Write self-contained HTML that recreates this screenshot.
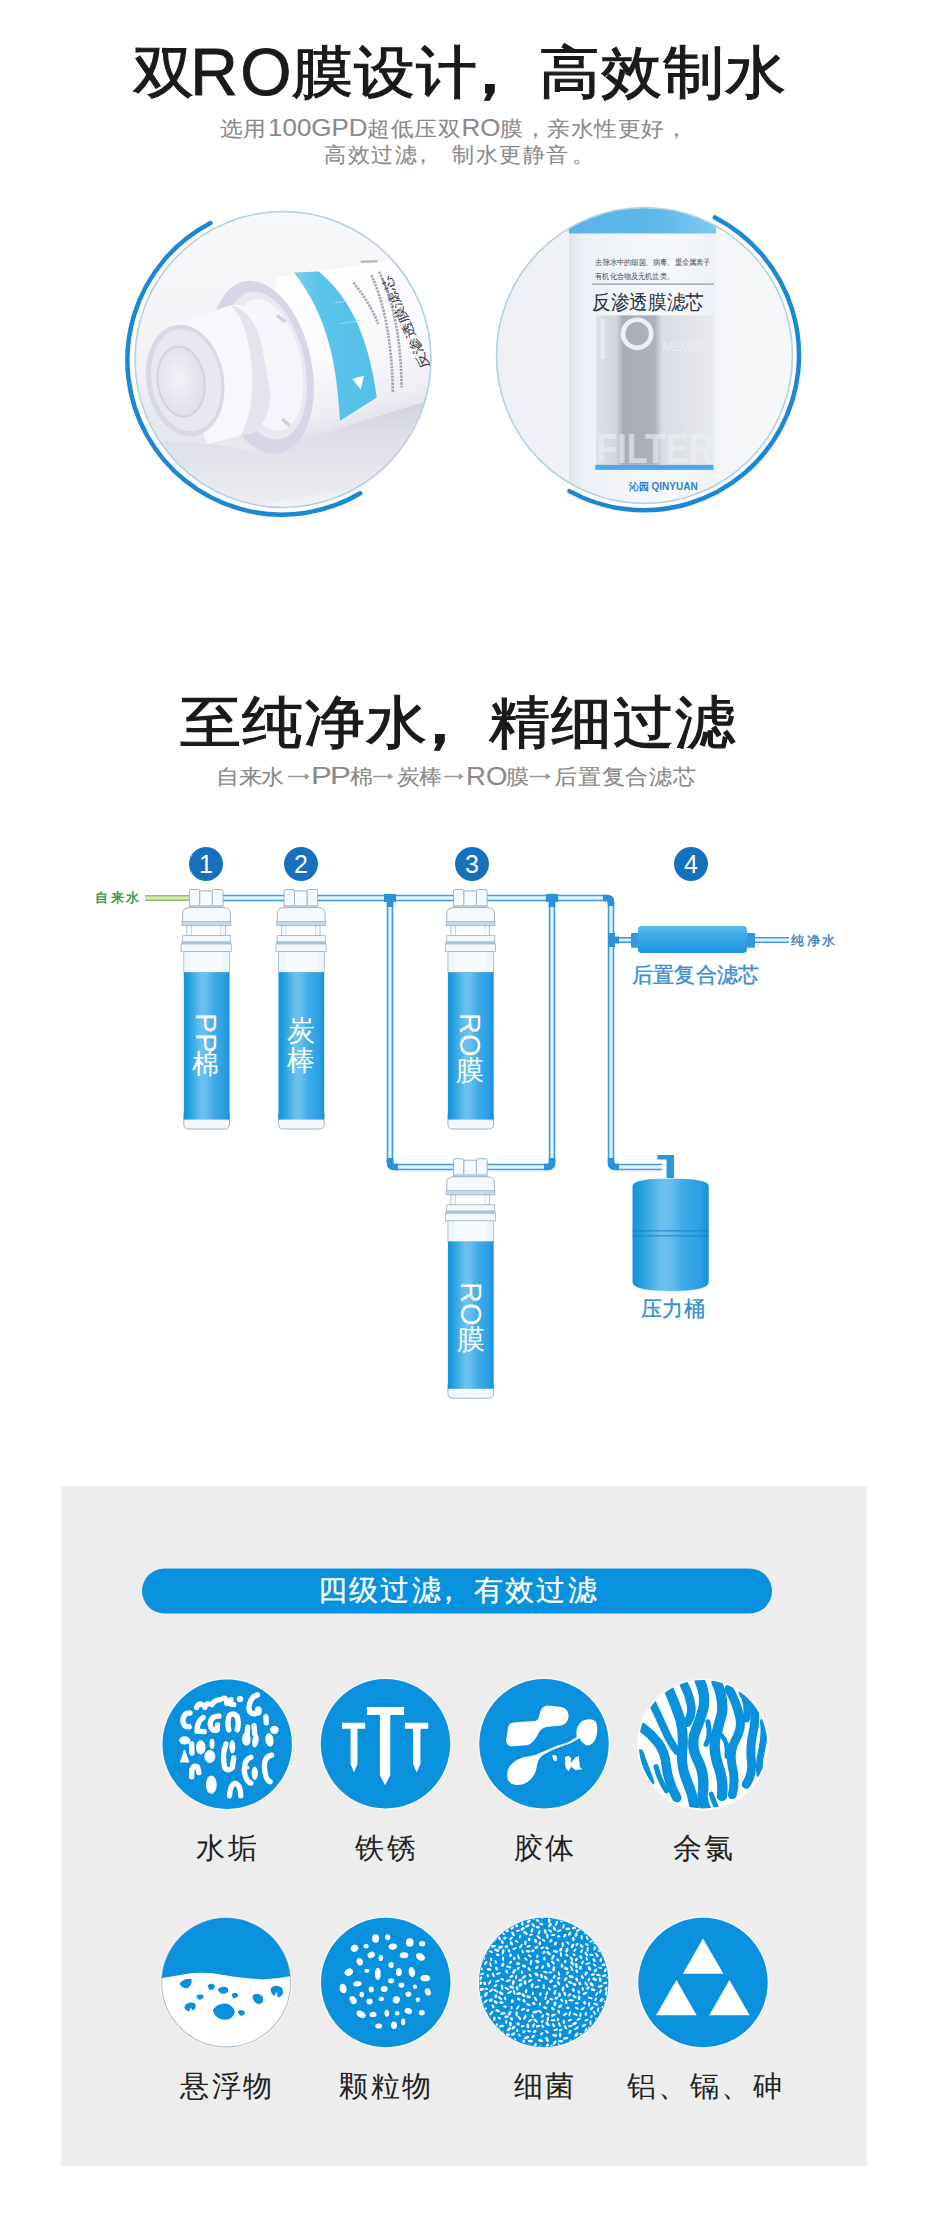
<!DOCTYPE html>
<html><head><meta charset="utf-8"><style>
*{margin:0;padding:0;box-sizing:border-box}
html,body{width:927px;height:2217px;overflow:hidden;background:#fff}
body{position:relative;font-family:"Liberation Sans",sans-serif}
.t{position:absolute;white-space:nowrap}
.g{-webkit-text-stroke:0.1px #8a8a8a}
.lt{letter-spacing:2px}
.v{position:absolute;writing-mode:vertical-rl;color:#fff;white-space:nowrap;letter-spacing:0}
.num{position:absolute;width:34px;height:34px;line-height:34px;text-align:center;color:#fff;font-size:25px}
.lab{position:absolute;width:200px;text-align:center;font-size:29px;line-height:28px;color:#222;letter-spacing:2.5px;text-indent:2.5px;white-space:nowrap}
#main{position:absolute;left:0;top:0}
.arw{display:inline-block;vertical-align:middle;margin:0 2px 0 3px}
</style></head>
<body>
<svg id="main" width="927" height="2217" viewBox="0 0 927 2217">
<defs>
<linearGradient id="gb" x1="0" x2="1" y1="0" y2="0">
<stop offset="0" stop-color="#1493d8"/><stop offset="0.08" stop-color="#1c9bdc"/><stop offset="0.25" stop-color="#46b1e8"/><stop offset="0.38" stop-color="#6cc1ee"/><stop offset="0.5" stop-color="#66bdee"/><stop offset="0.66" stop-color="#3eabe8"/><stop offset="0.9" stop-color="#2a9fe3"/><stop offset="1" stop-color="#118fd8"/>
</linearGradient>
<linearGradient id="gv" x1="0" x2="0" y1="0" y2="1">
<stop offset="0" stop-color="#5cbaee"/><stop offset="0.35" stop-color="#3eabe8"/><stop offset="1" stop-color="#1a94dc"/>
</linearGradient>
<g id="flt">
 <rect x="-17.2" y="0.5" width="10.4" height="18" rx="1.5" fill="#f5f9fc" stroke="#9db6c6" stroke-width="1"/>
 <rect x="5.7" y="0.5" width="10.7" height="18" rx="1.5" fill="#f5f9fc" stroke="#9db6c6" stroke-width="1"/>
 <rect x="-6.8" y="2" width="12.5" height="15.5" fill="#f8fbfd" stroke="#9db6c6" stroke-width="1"/>
 <rect x="-17" y="16" width="33.5" height="3" fill="#b7cddc"/>
 <path d="M-24,35 L-24,25 Q-24,18.6 -17,18.6 L17,18.6 Q23.8,18.6 23.8,25 L23.8,35 Z" fill="#f6f9fc" stroke="#9db6c6" stroke-width="1"/>
 <rect x="-24.5" y="32.5" width="48.8" height="4.2" fill="#c4d8e6" stroke="#9db6c6" stroke-width="0.8"/>
 <rect x="-19.8" y="36.7" width="4.8" height="10" fill="#f5f9fc" stroke="#9db6c6" stroke-width="0.8"/>
 <rect x="14" y="36.7" width="4.8" height="10" fill="#f5f9fc" stroke="#9db6c6" stroke-width="0.8"/>
 <rect x="-15" y="38" width="29" height="8.6" fill="#fbfdfe"/>
 <rect x="-24" y="46.6" width="48" height="6.2" fill="#f4f8fb" stroke="#9db6c6" stroke-width="0.8"/>
 <rect x="-25.4" y="52.5" width="50.1" height="2.6" fill="#a9c7dc"/>
 <rect x="-25.4" y="55" width="50.1" height="7.8" fill="#f4f8fb" stroke="#9db6c6" stroke-width="0.8"/>
 <rect x="-22.8" y="62.6" width="45.7" height="21" fill="#eef5fb" stroke="#9db6c6" stroke-width="0.8"/>
 <rect x="-16" y="63" width="32" height="20" fill="#f7fafd"/>
 <path d="M-22.8,225 L-22.8,235 Q-22.8,240 -17.8,240 L17.9,240 Q22.9,240 22.9,235 L22.9,225 Z" fill="#f4f8fb" stroke="#9db6c6" stroke-width="1"/>
 <rect x="-22.8" y="83.3" width="45.7" height="147.3" fill="url(#gb)"/>
</g>
</defs><svg x="130" y="205" width="310" height="310" viewBox="0 0 927 927">
<defs>
<clipPath id="lc"><circle cx="457.5" cy="462" r="441"/></clipPath>
<linearGradient id="lbg" x1="0" y1="0" x2="0" y2="1">
 <stop offset="0" stop-color="#f8f8fa"/><stop offset="0.5" stop-color="#f3f3f7"/><stop offset="0.75" stop-color="#e6e6ee"/><stop offset="0.9" stop-color="#ebebf1"/><stop offset="1" stop-color="#f3f3f6"/>
</linearGradient>
<linearGradient id="lbody" x1="0" y1="0" x2="0.25" y2="1">
 <stop offset="0" stop-color="#ffffff"/><stop offset="0.6" stop-color="#fafafd"/><stop offset="0.85" stop-color="#ececf3"/><stop offset="1" stop-color="#dcdce8"/>
</linearGradient>
<linearGradient id="lsh" x1="0" y1="0" x2="0" y2="1">
 <stop offset="0" stop-color="#cfcfdc"/><stop offset="0.3" stop-color="#dedee8"/><stop offset="1" stop-color="#f0f0f4"/>
</linearGradient>
<linearGradient id="lband" x1="0" y1="0" x2="1" y2="0">
 <stop offset="0" stop-color="#7ccdee"/><stop offset="0.3" stop-color="#5cc4ea"/><stop offset="1" stop-color="#54bfe8"/>
</linearGradient>
<radialGradient id="lface" cx="0.45" cy="0.45" r="0.6">
 <stop offset="0" stop-color="#f2f2f7"/><stop offset="1" stop-color="#dedeea"/>
</radialGradient>
</defs>
<circle cx="457.5" cy="462" r="442.5" fill="url(#lbg)"/>
<g clip-path="url(#lc)">
 <!-- shadow under product -->
 <path d="M0,700 L250,715 L383,741 L589,679 L879,588 L960,560 L960,800 L0,960 Z" fill="url(#lsh)"/>
 <!-- main body -->
 <path d="M440,215 L960,140 L960,560 L879,588 L589,679 L383,741 Z" fill="url(#lbody)"/>
 <!-- cyan band -->
 <path d="M490,202 L564,199 C650,270 712,380 738,576 L628,645 C618,470 590,330 490,202 Z" fill="url(#lband)"/>
 <path d="M612,292 L648,288 M628,355 L690,345" stroke="#9ed8f2" stroke-width="3"/>
 <path d="M665,520 L700,510 L690,552 Z" fill="#ffffff"/>
 <!-- text on body -->
 <text transform="translate(896,484) rotate(-114)" font-size="37" fill="#3a3c44" font-family="Liberation Sans" textLength="300" lengthAdjust="spacingAndGlyphs">反渗透膜滤芯</text>
 <g fill="none" stroke="#707480" stroke-width="8" stroke-dasharray="7 3" opacity="0.6">
  <path d="M745,200 Q810,330 812,545"/>
  <path d="M722,210 Q782,340 786,560"/>
  <path d="M668,232 Q720,296 742,356"/>
 </g>
 <path d="M690,170 L740,168" stroke="#808490" stroke-width="6" opacity="0.6"/>
 <!-- flange ring -->
 <ellipse cx="395" cy="485" rx="148" ry="262" transform="rotate(-12,395,485)" fill="#d6d6e6"/>
 <ellipse cx="405" cy="480" rx="118" ry="225" transform="rotate(-12,405,480)" fill="#e9e9f2"/>
 <ellipse cx="412" cy="478" rx="100" ry="200" transform="rotate(-12,412,478)" fill="#f6f6fa"/>
 <path d="M440,330 L465,350 M455,640 L478,660" stroke="#d0d0e0" stroke-width="10"/>
 <!-- cap cylinder -->
 <path d="M120,360 L300,300 Q350,290 380,330 L420,560 Q420,640 370,680 L230,715 Z" fill="#f8f8fc"/>
 <path d="M300,300 Q360,310 390,400 L420,560 Q420,640 370,680 L330,690 Q380,600 360,450 Q345,340 300,300 Z" fill="#e4e4ee"/>
 <!-- cap face -->
 <ellipse cx="165" cy="525" rx="116" ry="168" transform="rotate(-10,165,525)" fill="#d8d8e6"/>
 <ellipse cx="168" cy="524" rx="104" ry="154" transform="rotate(-10,168,524)" fill="#e8e8f0"/>
 <ellipse cx="153" cy="528" rx="70" ry="105" transform="rotate(-8,153,528)" fill="url(#lface)" stroke="#d2d2e0" stroke-width="6"/>
</g>
<circle cx="457.5" cy="462" r="442.5" fill="none" stroke="#b3d3e2" stroke-width="5"/>
</svg><svg x="490" y="200" width="310" height="310" viewBox="0 0 927 927">
<defs>
<clipPath id="rc"><circle cx="462" cy="465" r="441"/></clipPath>
<linearGradient id="rbg" x1="0" y1="0" x2="1" y2="0">
 <stop offset="0" stop-color="#eef0f4"/><stop offset="0.5" stop-color="#f3f4f7"/><stop offset="1" stop-color="#f6f7f9"/>
</linearGradient>
<linearGradient id="rcyl" x1="0" y1="0" x2="1" y2="0">
 <stop offset="0" stop-color="#dfe4ec"/><stop offset="0.12" stop-color="#eef2f8"/><stop offset="0.7" stop-color="#f6f8fb"/><stop offset="1" stop-color="#eef1f6"/>
</linearGradient>
<linearGradient id="rband" x1="0" y1="0" x2="1" y2="0"><stop offset="0" stop-color="#58b2e6"/><stop offset="0.6" stop-color="#5eb8ea"/><stop offset="1" stop-color="#7ccaf2"/></linearGradient>
<linearGradient id="rsil" x1="0" y1="0" x2="1" y2="0">
 <stop offset="0" stop-color="#dcdfe6"/><stop offset="0.17" stop-color="#d4d7df"/><stop offset="0.23" stop-color="#a9adb8"/><stop offset="0.5" stop-color="#aeb2bc"/><stop offset="0.56" stop-color="#dadde3"/><stop offset="1" stop-color="#e8eaee"/>
</linearGradient>
</defs>
<circle cx="462" cy="465" r="442.5" fill="url(#rbg)"/>
<g clip-path="url(#rc)">
 <rect x="236" y="0" width="440" height="975" fill="url(#rcyl)"/>
 <rect x="236" y="0" width="440" height="100" fill="url(#rband)"/>
 <text x="315" y="195" font-size="25" fill="#4a4e56" font-family="Liberation Sans" textLength="345" lengthAdjust="spacingAndGlyphs">去除水中的细菌、病毒、重金属离子</text>
 <text x="315" y="235" font-size="25" fill="#4a4e56" font-family="Liberation Sans" textLength="235" lengthAdjust="spacingAndGlyphs">有机化合物及无机盐类。</text>
 <rect x="305" y="250" width="365" height="3" fill="#7a8290"/>
 <text x="305" y="326" font-size="60" fill="#2e3036" font-family="Liberation Sans" textLength="335" lengthAdjust="spacingAndGlyphs">反渗透膜滤芯</text>
 <rect x="318" y="345" width="350" height="447" fill="url(#rsil)"/>
 <circle cx="440" cy="400" r="42" fill="none" stroke="#eef0f4" stroke-width="14"/>
 <rect x="330" y="355" width="14" height="120" fill="#eef0f4" opacity="0.7"/>
 <text x="515" y="452" font-size="36" fill="#eef0f4" font-family="Liberation Sans" opacity="0.8">MEMBR</text>
 <text x="318" y="786" font-size="128" fill="#eef0f4" font-family="Liberation Sans" font-weight="bold" opacity="0.6" textLength="350" lengthAdjust="spacingAndGlyphs">FILTER</text>
 <rect x="315" y="792" width="353" height="15" fill="#4aa8e8"/>
 <text x="415" y="868" font-size="30" fill="#2f7fd0" font-family="Liberation Sans" font-weight="bold">沁园 QINYUAN</text>
</g>
<circle cx="462" cy="465" r="442.5" fill="none" stroke="#b3d3e2" stroke-width="5"/>
</svg><path d="M210.5,223.1 A154.5,154.5 0 1 0 360.2,493.3" fill="none" stroke="#1a88d4" stroke-width="4.5" stroke-linecap="round"/><path d="M714.9,217.4 A155,155 0 1 1 569.4,491.1" fill="none" stroke="#1a88d4" stroke-width="4.5" stroke-linecap="round"/><path d="M288.2,776.5 H305.8" stroke="#9a9a9a" stroke-width="1.5"/><path d="M304.8,773.3 L309.8,776.5 L304.8,779.7 Z" fill="#9a9a9a"/><path d="M373,776.5 H389.4" stroke="#9a9a9a" stroke-width="1.5"/><path d="M388.4,773.3 L393.4,776.5 L388.4,779.7 Z" fill="#9a9a9a"/><path d="M444.2,776.5 H459.8" stroke="#9a9a9a" stroke-width="1.5"/><path d="M458.8,773.3 L463.8,776.5 L458.8,779.7 Z" fill="#9a9a9a"/><path d="M529.8,776.5 H546.8" stroke="#9a9a9a" stroke-width="1.5"/><path d="M545.8,773.3 L550.8,776.5 L545.8,779.7 Z" fill="#9a9a9a"/><path d="M145,898 L190,898" fill="none" stroke="#8cc46a" stroke-width="6" stroke-linejoin="round"/><path d="M145,898 L190,898" fill="none" stroke="#d5ecb0" stroke-width="2.8" stroke-linejoin="round"/><path d="M222,898 L286,898 M316,898 L455,898 M487,898 L606,898 Q611,898 611,903 L611,1162 Q611,1167 616,1167 L662,1167" fill="none" stroke="#3d9be0" stroke-width="6.5" stroke-linejoin="round"/><path d="M222,898 L286,898 M316,898 L455,898 M487,898 L606,898 Q611,898 611,903 L611,1162 Q611,1167 616,1167 L662,1167" fill="none" stroke="#e3f2fc" stroke-width="3.3" stroke-linejoin="round"/><path d="M390,898 L390,1162 Q390,1167 395,1167 L456,1167" fill="none" stroke="#3d9be0" stroke-width="6.5" stroke-linejoin="round"/><path d="M390,898 L390,1162 Q390,1167 395,1167 L456,1167" fill="none" stroke="#e3f2fc" stroke-width="3.3" stroke-linejoin="round"/><path d="M552,898 L552,1162 Q552,1167 547,1167 L486,1167" fill="none" stroke="#3d9be0" stroke-width="6.5" stroke-linejoin="round"/><path d="M552,898 L552,1162 Q552,1167 547,1167 L486,1167" fill="none" stroke="#e3f2fc" stroke-width="3.3" stroke-linejoin="round"/><path d="M611,940 L632,940" fill="none" stroke="#3d9be0" stroke-width="6" stroke-linejoin="round"/><path d="M611,940 L632,940" fill="none" stroke="#e3f2fc" stroke-width="2.8" stroke-linejoin="round"/><path d="M754,940 L789,940" fill="none" stroke="#3d9be0" stroke-width="6" stroke-linejoin="round"/><path d="M754,940 L789,940" fill="none" stroke="#e3f2fc" stroke-width="2.8" stroke-linejoin="round"/><rect x="384" y="894" width="12" height="8" fill="#2a92dc"/><rect x="386.7" y="898" width="6.6" height="9" fill="#2a92dc"/><rect x="546" y="894" width="12" height="8" fill="#2a92dc"/><rect x="548.7" y="898" width="6.6" height="9" fill="#2a92dc"/><rect x="608" y="933" width="7" height="14" fill="#2a92dc"/><rect x="614" y="936.5" width="5" height="7" fill="#2a92dc"/><path d="M603,894.7 L607,894.7 Q614.3,894.7 614.3,902 L614.3,906 L607.7,906 L607.7,902 Q607.7,901.3 607,901.3 L603,901.3 Z" fill="#2a92dc"/><path d="M386.7,1158 L386.7,1163 Q386.7,1170.3 394,1170.3 L398,1170.3 L398,1163.7 L394,1163.7 Q393.3,1163.7 393.3,1163 L393.3,1158 Z" fill="#2a92dc"/><path d="M555.3,1158 L555.3,1163 Q555.3,1170.3 548,1170.3 L544,1170.3 L544,1163.7 L548,1163.7 Q548.7,1163.7 548.7,1163 L548.7,1158 Z" fill="#2a92dc"/><path d="M607.7,1158 L607.7,1163 Q607.7,1170.3 615,1170.3 L619,1170.3 L619,1163.7 L615,1163.7 Q614.3,1163.7 614.3,1163 L614.3,1158 Z" fill="#2a92dc"/><use href="#flt" x="206.6" y="889"/><use href="#flt" x="301.3" y="889"/><use href="#flt" x="470.7" y="889"/><use href="#flt" x="470.7" y="1158.2"/><circle cx="206" cy="864" r="17" fill="#1670bb"/><circle cx="301" cy="864" r="17" fill="#1670bb"/><circle cx="472" cy="864" r="17" fill="#1670bb"/><circle cx="691" cy="864" r="17" fill="#1670bb"/><rect x="631" y="933" width="8" height="14.7" rx="1" fill="#3198de"/><rect x="746" y="933" width="9" height="14.7" rx="1" fill="#3198de"/><rect x="637.8" y="926" width="109.2" height="27" rx="4" fill="url(#gv)"/><path d="M666.5,1178 L666.5,1159.6 L657.4,1159.6 L657.4,1155 L674,1155 L674,1178 Z" fill="#2c95dc"/><path d="M632.5,1186 Q632.5,1178.5 670.6,1178.5 Q708.7,1178.5 708.7,1186 L708.7,1282 Q708.7,1291 670.6,1291 Q632.5,1291 632.5,1282 Z" fill="url(#gb)"/><rect x="632.5" y="1230" width="76.2" height="1.6" fill="#1a7fc8" opacity="0.6"/><rect x="632.5" y="1235" width="76.2" height="1.6" fill="#1a7fc8" opacity="0.6"/><rect x="61" y="1486" width="806" height="680" fill="#ededed"/><rect x="142" y="1568.5" width="630" height="45" rx="22.5" fill="#0892dd"/><circle cx="227.2" cy="1744.3" r="66" fill="#f7f7f7"/><circle cx="227.2" cy="1744.3" r="64.7" fill="#0991de"/><circle cx="385.5" cy="1743.8" r="66" fill="#f7f7f7"/><circle cx="385.5" cy="1743.8" r="64.7" fill="#0991de"/><circle cx="544" cy="1743.8" r="66" fill="#f7f7f7"/><circle cx="544" cy="1743.8" r="64.7" fill="#0991de"/><circle cx="703" cy="1744.5" r="66" fill="#f7f7f7"/><circle cx="703" cy="1744.5" r="64.7" fill="#ffffff"/><circle cx="226.2" cy="1982.5" r="66" fill="#f7f7f7"/><circle cx="226.2" cy="1982.5" r="64.7" fill="#ffffff"/><circle cx="385.7" cy="1982.5" r="66" fill="#f7f7f7"/><circle cx="385.7" cy="1982.5" r="64.7" fill="#0991de"/><circle cx="543.7" cy="1982.5" r="66" fill="#f7f7f7"/><circle cx="543.7" cy="1982.5" r="64.7" fill="#0991de"/><circle cx="703" cy="1982.5" r="66" fill="#f7f7f7"/><circle cx="703" cy="1982.5" r="64.7" fill="#0991de"/><svg x="165" y="1685" width="130" height="120" viewBox="0 0 927 856"><path d="M225,160 Q240,125 262,140" fill="none" stroke="#fff" stroke-width="38" stroke-linecap="round" stroke-linejoin="round"/><path d="M285,160 Q290,130 310,135" fill="none" stroke="#fff" stroke-width="38" stroke-linecap="round" stroke-linejoin="round"/><path d="M335,140 Q350,110 390,105" fill="none" stroke="#fff" stroke-width="38" stroke-linecap="round" stroke-linejoin="round"/><path d="M415,95 Q440,90 440,130" fill="none" stroke="#fff" stroke-width="38" stroke-linecap="round" stroke-linejoin="round"/><path d="M470,105 L465,135 L490,140" fill="none" stroke="#fff" stroke-width="38" stroke-linecap="round" stroke-linejoin="round"/><path d="M660,70 Q605,85 598,165 Q600,205 640,205" fill="none" stroke="#fff" stroke-width="38" stroke-linecap="round" stroke-linejoin="round"/><path d="M178,200 Q125,200 128,262 Q135,300 172,298" fill="none" stroke="#fff" stroke-width="38" stroke-linecap="round" stroke-linejoin="round"/><path d="M272,232 Q228,260 228,330 L280,332" fill="none" stroke="#fff" stroke-width="38" stroke-linecap="round" stroke-linejoin="round"/><path d="M385,222 Q325,220 322,282 Q328,330 372,322 L375,285" fill="none" stroke="#fff" stroke-width="38" stroke-linecap="round" stroke-linejoin="round"/><path d="M455,320 Q440,260 460,215 Q490,195 515,225 Q530,270 515,320" fill="none" stroke="#fff" stroke-width="38" stroke-linecap="round" stroke-linejoin="round"/><path d="M590,300 L585,360" fill="none" stroke="#fff" stroke-width="38" stroke-linecap="round" stroke-linejoin="round"/><path d="M635,290 L640,350" fill="none" stroke="#fff" stroke-width="38" stroke-linecap="round" stroke-linejoin="round"/><path d="M720,225 L722,270" fill="none" stroke="#fff" stroke-width="38" stroke-linecap="round" stroke-linejoin="round"/><path d="M190,420 L192,485" fill="none" stroke="#fff" stroke-width="38" stroke-linecap="round" stroke-linejoin="round"/><path d="M435,420 Q405,500 425,590 Q450,620 480,590 L490,520" fill="none" stroke="#fff" stroke-width="38" stroke-linecap="round" stroke-linejoin="round"/><path d="M190,655 L192,605 Q205,565 232,585 L242,625" fill="none" stroke="#fff" stroke-width="38" stroke-linecap="round" stroke-linejoin="round"/><path d="M460,790 Q468,705 500,702 Q538,708 540,790" fill="none" stroke="#fff" stroke-width="38" stroke-linecap="round" stroke-linejoin="round"/><path d="M612,515 Q562,530 566,620 Q578,690 612,700" fill="none" stroke="#fff" stroke-width="38" stroke-linecap="round" stroke-linejoin="round"/><path d="M760,500 Q702,512 710,600 Q718,680 750,690" fill="none" stroke="#fff" stroke-width="38" stroke-linecap="round" stroke-linejoin="round"/><ellipse cx="535" cy="100" rx="23" ry="22" transform="rotate(0,535,100)" fill="#fff"/><ellipse cx="665" cy="185" rx="26" ry="34" transform="rotate(0,665,185)" fill="#fff"/><ellipse cx="780" cy="320" rx="31" ry="29" transform="rotate(0,780,320)" fill="#fff"/><ellipse cx="140" cy="395" rx="39" ry="29" transform="rotate(0,140,395)" fill="#fff"/><ellipse cx="255" cy="445" rx="34" ry="50" transform="rotate(0,255,445)" fill="#fff"/><ellipse cx="320" cy="510" rx="39" ry="46" transform="rotate(0,320,510)" fill="#fff"/><ellipse cx="335" cy="420" rx="18" ry="36" transform="rotate(0,335,420)" fill="#fff"/><ellipse cx="480" cy="440" rx="21" ry="48" transform="rotate(0,480,440)" fill="#fff"/><ellipse cx="580" cy="385" rx="31" ry="48" transform="rotate(0,580,385)" fill="#fff"/><ellipse cx="645" cy="398" rx="22" ry="48" transform="rotate(10,645,398)" fill="#fff"/><ellipse cx="745" cy="392" rx="29" ry="48" transform="rotate(-10,745,392)" fill="#fff"/><ellipse cx="640" cy="630" rx="22" ry="48" transform="rotate(0,640,630)" fill="#fff"/><ellipse cx="330" cy="712" rx="39" ry="66" transform="rotate(0,330,712)" fill="#fff"/><ellipse cx="590" cy="590" rx="13" ry="12" transform="rotate(0,590,590)" fill="#fff"/><path d="M112,548 L138,468 L168,548 Z" fill="#fff" stroke="#fff" stroke-width="10" stroke-linejoin="round"/></svg><svg x="310" y="1670" width="160" height="160" viewBox="0 0 927 927"><path d="M330,215 L545,215 L545,260 L465,260 L465,610 L435,668 L405,610 L405,260 L330,260 Z" fill="#fff"/><path d="M185,305 L320,305 L320,340 L275,340 L275,545 L255,592 L235,545 L235,340 L185,340 Z" fill="#fff"/><path d="M550,305 L685,305 L685,340 L640,340 L640,545 L618,592 L597,545 L597,340 L550,340 Z" fill="#fff"/></svg><svg x="465" y="1670" width="160" height="160" viewBox="0 0 927 927"><path d="M250,330 Q255,305 295,303 L405,296 Q428,290 432,255 Q440,212 475,205 L560,214 Q602,226 600,272 Q594,314 556,322 L472,330 Q442,336 428,362 Q402,422 360,436 L272,442 Q238,440 238,405 Z" fill="#fff"/><path d="M258,558 Q300,505 372,500 Q412,494 440,478 Q520,440 598,418 L648,388 Q636,330 678,296 Q728,274 758,300 Q776,342 756,400 Q736,442 702,436 Q680,426 664,396 L612,424 Q522,452 452,492 Q422,512 416,560 Q402,640 330,664 Q262,676 246,630 Q240,590 258,558 Z" fill="#fff"/><path d="M505,495 Q520,485 530,500 Q540,520 525,528 Q510,525 505,495 Z" fill="#fff"/><path d="M580,505 Q600,490 615,510 L612,540 L640,505 L660,500 L665,560 L680,575 L640,580 L615,560 L600,585 L585,570 Q575,540 580,505 Z" fill="#fff"/></svg><svg x="625" y="1670" width="160" height="160" viewBox="0 0 927 927"><defs><clipPath id="c4"><circle cx="452" cy="430" r="372"/></clipPath></defs><circle cx="452" cy="430" r="372" fill="#fff"/><g clip-path="url(#c4)"><path d="M95,330 Q150,370 190,420 Q232,472 240,560 Q250,650 300,740" fill="none" stroke="#0991de" stroke-linecap="round" stroke-width="55"/><path d="M88,480 Q118,560 150,650" fill="none" stroke="#0991de" stroke-linecap="round" stroke-width="40"/><path d="M160,195 Q200,280 232,350 Q262,420 302,470" fill="none" stroke="#0991de" stroke-linecap="round" stroke-width="45"/><path d="M250,105 Q292,200 322,290 Q342,380 332,470 Q322,560 362,650 Q392,722 402,790" fill="none" stroke="#0991de" stroke-linecap="round" stroke-width="58"/><path d="M340,80 Q372,140 382,200 Q392,262 360,305" fill="none" stroke="#0991de" stroke-linecap="round" stroke-width="50"/><path d="M432,60 Q472,150 452,230 Q432,300 402,372 Q382,452 422,522 Q462,602 452,700 Q442,762 472,810" fill="none" stroke="#0991de" stroke-linecap="round" stroke-width="60"/><path d="M530,70 Q572,160 562,250 Q542,320 522,400 Q512,480 542,560 Q572,640 562,730" fill="none" stroke="#0991de" stroke-linecap="round" stroke-width="60"/><path d="M602,110 Q642,180 662,262 Q682,332 642,402 Q602,472 622,562 Q642,642 622,722" fill="none" stroke="#0991de" stroke-linecap="round" stroke-width="52"/><path d="M682,135 Q722,200 702,282" fill="none" stroke="#0991de" stroke-linecap="round" stroke-width="44"/><path d="M742,195 Q762,282 742,362 Q722,442 732,522 Q742,602 702,662" fill="none" stroke="#0991de" stroke-linecap="round" stroke-width="52"/><path d="M802,300 Q812,380 792,462 Q772,542 782,602" fill="none" stroke="#0991de" stroke-linecap="round" stroke-width="40"/><path d="M480,300 Q500,380 470,430" fill="none" stroke="#0991de" stroke-linecap="round" stroke-width="30"/><path d="M560,380 Q600,420 590,500" fill="none" stroke="#0991de" stroke-linecap="round" stroke-width="28"/><path d="M180,560 Q200,640 240,700" fill="none" stroke="#0991de" stroke-linecap="round" stroke-width="30"/><path d="M500,720 Q520,780 540,820" fill="none" stroke="#0991de" stroke-linecap="round" stroke-width="30"/></g></svg><svg x="150" y="1910" width="160" height="160" viewBox="0 0 927 927"><defs><clipPath id="c5"><circle cx="441" cy="420" r="373"/></clipPath></defs><circle cx="441" cy="420" r="373" fill="#fff" stroke="#a9bfcc" stroke-width="6"/><path d="M40,400 Q120,385 200,372 Q300,355 400,372 Q520,395 650,402 Q740,400 830,380 L830,0 L40,0 Z" fill="#0991de" clip-path="url(#c5)"/><path d="M178,428 Q200,400 235,405 Q240,430 215,448 Q190,450 178,428 Z" fill="#0991de" stroke="#0991de" stroke-width="12" stroke-linejoin="round"/><path d="M340,440 Q355,428 370,440 Q370,455 350,458 Z" fill="#0991de" stroke="#0991de" stroke-width="12" stroke-linejoin="round"/><path d="M400,460 Q420,445 445,455 Q455,475 430,480 Q405,478 400,460 Z" fill="#0991de" stroke="#0991de" stroke-width="12" stroke-linejoin="round"/><path d="M480,490 Q495,480 505,492 Q500,505 485,505 Z" fill="#0991de" stroke="#0991de" stroke-width="12" stroke-linejoin="round"/><path d="M275,500 Q290,490 305,500 Q300,515 285,512 Z" fill="#0991de" stroke="#0991de" stroke-width="12" stroke-linejoin="round"/><path d="M600,500 Q625,480 648,505 Q655,535 632,540 Q605,535 600,500 Z" fill="#0991de" stroke="#0991de" stroke-width="12" stroke-linejoin="round"/><path d="M705,455 Q730,435 760,455 Q775,490 745,500 L740,470 Q725,465 720,490 Q705,480 705,455 Z" fill="#0991de" stroke="#0991de" stroke-width="12" stroke-linejoin="round"/><path d="M205,560 Q225,535 255,545 Q265,565 250,575 L240,560 Q225,560 225,580 Q208,580 205,560 Z" fill="#0991de" stroke="#0991de" stroke-width="12" stroke-linejoin="round"/><path d="M370,580 Q395,545 440,548 Q478,560 485,590 Q478,625 440,630 Q385,630 370,580 Z" fill="#0991de" stroke="#0991de" stroke-width="12" stroke-linejoin="round"/><path d="M515,590 Q530,580 545,595 Q540,608 525,606 Z" fill="#0991de" stroke="#0991de" stroke-width="12" stroke-linejoin="round"/></svg><svg x="310" y="1910" width="160" height="160" viewBox="0 0 927 927"><ellipse cx="380" cy="165" rx="20" ry="25" transform="rotate(0,380,165)" fill="#fff"/><ellipse cx="450" cy="158" rx="15" ry="17" transform="rotate(0,450,158)" fill="#fff"/><ellipse cx="578" cy="188" rx="22" ry="25" transform="rotate(0,578,188)" fill="#fff"/><ellipse cx="650" cy="195" rx="18" ry="15" transform="rotate(0,650,195)" fill="#fff"/><ellipse cx="258" cy="222" rx="22" ry="20" transform="rotate(-30,258,222)" fill="#fff"/><ellipse cx="325" cy="210" rx="15" ry="13" transform="rotate(0,325,210)" fill="#fff"/><ellipse cx="480" cy="212" rx="25" ry="18" transform="rotate(-10,480,212)" fill="#fff"/><ellipse cx="355" cy="260" rx="22" ry="18" transform="rotate(-30,355,260)" fill="#fff"/><ellipse cx="410" cy="278" rx="13" ry="18" transform="rotate(0,410,278)" fill="#fff"/><ellipse cx="545" cy="262" rx="25" ry="17" transform="rotate(0,545,262)" fill="#fff"/><ellipse cx="640" cy="272" rx="28" ry="20" transform="rotate(30,640,272)" fill="#fff"/><ellipse cx="288" cy="300" rx="18" ry="22" transform="rotate(-20,288,300)" fill="#fff"/><ellipse cx="470" cy="318" rx="15" ry="17" transform="rotate(0,470,318)" fill="#fff"/><ellipse cx="225" cy="360" rx="25" ry="20" transform="rotate(-30,225,360)" fill="#fff"/><ellipse cx="330" cy="352" rx="15" ry="12" transform="rotate(0,330,352)" fill="#fff"/><ellipse cx="393" cy="370" rx="17" ry="35" transform="rotate(0,393,370)" fill="#fff"/><ellipse cx="515" cy="360" rx="17" ry="22" transform="rotate(0,515,360)" fill="#fff"/><ellipse cx="590" cy="360" rx="18" ry="30" transform="rotate(-10,590,360)" fill="#fff"/><ellipse cx="668" cy="395" rx="28" ry="18" transform="rotate(0,668,395)" fill="#fff"/><ellipse cx="275" cy="428" rx="25" ry="15" transform="rotate(-10,275,428)" fill="#fff"/><ellipse cx="470" cy="410" rx="17" ry="15" transform="rotate(0,470,410)" fill="#fff"/><ellipse cx="530" cy="435" rx="17" ry="15" transform="rotate(0,530,435)" fill="#fff"/><ellipse cx="608" cy="445" rx="12" ry="13" transform="rotate(0,608,445)" fill="#fff"/><ellipse cx="192" cy="455" rx="20" ry="28" transform="rotate(-10,192,455)" fill="#fff"/><ellipse cx="355" cy="460" rx="15" ry="17" transform="rotate(0,355,460)" fill="#fff"/><ellipse cx="430" cy="458" rx="20" ry="17" transform="rotate(0,430,458)" fill="#fff"/><ellipse cx="683" cy="475" rx="17" ry="22" transform="rotate(-20,683,475)" fill="#fff"/><ellipse cx="300" cy="490" rx="13" ry="17" transform="rotate(0,300,490)" fill="#fff"/><ellipse cx="570" cy="488" rx="17" ry="15" transform="rotate(-20,570,488)" fill="#fff"/><ellipse cx="250" cy="522" rx="18" ry="25" transform="rotate(-30,250,522)" fill="#fff"/><ellipse cx="345" cy="530" rx="18" ry="17" transform="rotate(0,345,530)" fill="#fff"/><ellipse cx="413" cy="515" rx="15" ry="13" transform="rotate(0,413,515)" fill="#fff"/><ellipse cx="500" cy="520" rx="20" ry="22" transform="rotate(20,500,520)" fill="#fff"/><ellipse cx="625" cy="520" rx="13" ry="13" transform="rotate(0,625,520)" fill="#fff"/><ellipse cx="296" cy="605" rx="28" ry="18" transform="rotate(30,296,605)" fill="#fff"/><ellipse cx="365" cy="605" rx="20" ry="15" transform="rotate(0,365,605)" fill="#fff"/><ellipse cx="445" cy="598" rx="13" ry="20" transform="rotate(0,445,598)" fill="#fff"/><ellipse cx="505" cy="598" rx="13" ry="13" transform="rotate(0,505,598)" fill="#fff"/><ellipse cx="570" cy="585" rx="22" ry="17" transform="rotate(20,570,585)" fill="#fff"/><ellipse cx="648" cy="595" rx="17" ry="15" transform="rotate(0,648,595)" fill="#fff"/><ellipse cx="398" cy="672" rx="20" ry="15" transform="rotate(0,398,672)" fill="#fff"/><ellipse cx="487" cy="668" rx="17" ry="22" transform="rotate(0,487,668)" fill="#fff"/><ellipse cx="540" cy="648" rx="12" ry="20" transform="rotate(0,540,648)" fill="#fff"/></svg><svg x="465" y="1910" width="160" height="160" viewBox="0 0 927 927"><defs><clipPath id="c7"><circle cx="456" cy="420" r="372"/></clipPath></defs><g clip-path="url(#c7)" fill="#fff"><ellipse cx="319" cy="155" rx="11" ry="6" transform="rotate(-69,319,155)"/><ellipse cx="571" cy="95" rx="14" ry="6" transform="rotate(-79,571,95)"/><ellipse cx="483" cy="318" rx="15" ry="8" transform="rotate(66,483,318)"/><ellipse cx="115" cy="426" rx="11" ry="8" transform="rotate(73,115,426)"/><ellipse cx="99" cy="370" rx="12" ry="6" transform="rotate(-21,99,370)"/><ellipse cx="397" cy="668" rx="13" ry="7" transform="rotate(-69,397,668)"/><ellipse cx="165" cy="210" rx="16" ry="7" transform="rotate(-8,165,210)"/><ellipse cx="553" cy="760" rx="16" ry="7" transform="rotate(-3,553,760)"/><ellipse cx="514" cy="341" rx="15" ry="8" transform="rotate(-77,514,341)"/><ellipse cx="731" cy="260" rx="14" ry="6" transform="rotate(9,731,260)"/><ellipse cx="308" cy="660" rx="10" ry="8" transform="rotate(18,308,660)"/><ellipse cx="209" cy="482" rx="15" ry="8" transform="rotate(31,209,482)"/><ellipse cx="562" cy="323" rx="11" ry="8" transform="rotate(84,562,323)"/><ellipse cx="492" cy="88" rx="14" ry="8" transform="rotate(-53,492,88)"/><ellipse cx="594" cy="365" rx="11" ry="7" transform="rotate(-63,594,365)"/><ellipse cx="312" cy="485" rx="15" ry="8" transform="rotate(-3,312,485)"/><ellipse cx="419" cy="268" rx="10" ry="6" transform="rotate(-65,419,268)"/><ellipse cx="682" cy="571" rx="15" ry="6" transform="rotate(-34,682,571)"/><ellipse cx="258" cy="477" rx="16" ry="6" transform="rotate(-30,258,477)"/><ellipse cx="474" cy="705" rx="13" ry="7" transform="rotate(35,474,705)"/><ellipse cx="632" cy="259" rx="10" ry="6" transform="rotate(36,632,259)"/><ellipse cx="392" cy="615" rx="11" ry="7" transform="rotate(61,392,615)"/><ellipse cx="187" cy="412" rx="15" ry="6" transform="rotate(-20,187,412)"/><ellipse cx="100" cy="548" rx="10" ry="7" transform="rotate(-14,100,548)"/><ellipse cx="659" cy="475" rx="11" ry="7" transform="rotate(74,659,475)"/><ellipse cx="605" cy="492" rx="12" ry="7" transform="rotate(-38,605,492)"/><ellipse cx="517" cy="387" rx="12" ry="7" transform="rotate(-65,517,387)"/><ellipse cx="435" cy="545" rx="11" ry="6" transform="rotate(-78,435,545)"/><ellipse cx="117" cy="573" rx="12" ry="7" transform="rotate(-16,117,573)"/><ellipse cx="703" cy="256" rx="15" ry="7" transform="rotate(57,703,256)"/><ellipse cx="367" cy="548" rx="14" ry="7" transform="rotate(20,367,548)"/><ellipse cx="371" cy="702" rx="11" ry="6" transform="rotate(12,371,702)"/><ellipse cx="132" cy="381" rx="10" ry="6" transform="rotate(74,132,381)"/><ellipse cx="701" cy="697" rx="14" ry="7" transform="rotate(-68,701,697)"/><ellipse cx="284" cy="356" rx="15" ry="8" transform="rotate(-59,284,356)"/><ellipse cx="206" cy="216" rx="15" ry="8" transform="rotate(-22,206,216)"/><ellipse cx="250" cy="409" rx="15" ry="7" transform="rotate(-13,250,409)"/><ellipse cx="524" cy="240" rx="16" ry="7" transform="rotate(9,524,240)"/><ellipse cx="354" cy="470" rx="12" ry="7" transform="rotate(-80,354,470)"/><ellipse cx="804" cy="565" rx="15" ry="8" transform="rotate(19,804,565)"/><ellipse cx="467" cy="509" rx="13" ry="6" transform="rotate(-75,467,509)"/><ellipse cx="763" cy="633" rx="10" ry="8" transform="rotate(51,763,633)"/><ellipse cx="372" cy="343" rx="12" ry="7" transform="rotate(50,372,343)"/><ellipse cx="150" cy="522" rx="12" ry="8" transform="rotate(-17,150,522)"/><ellipse cx="231" cy="163" rx="10" ry="8" transform="rotate(-9,231,163)"/><ellipse cx="332" cy="80" rx="13" ry="7" transform="rotate(79,332,80)"/><ellipse cx="148" cy="316" rx="13" ry="6" transform="rotate(75,148,316)"/><ellipse cx="543" cy="153" rx="10" ry="6" transform="rotate(-3,543,153)"/><ellipse cx="264" cy="304" rx="11" ry="6" transform="rotate(-54,264,304)"/><ellipse cx="350" cy="133" rx="15" ry="8" transform="rotate(31,350,133)"/><ellipse cx="429" cy="408" rx="11" ry="6" transform="rotate(10,429,408)"/><ellipse cx="334" cy="241" rx="11" ry="6" transform="rotate(69,334,241)"/><ellipse cx="708" cy="163" rx="13" ry="6" transform="rotate(65,708,163)"/><ellipse cx="477" cy="151" rx="15" ry="7" transform="rotate(80,477,151)"/><ellipse cx="488" cy="61" rx="15" ry="7" transform="rotate(87,488,61)"/><ellipse cx="477" cy="784" rx="11" ry="8" transform="rotate(-49,477,784)"/><ellipse cx="735" cy="569" rx="13" ry="7" transform="rotate(-40,735,569)"/><ellipse cx="199" cy="627" rx="11" ry="6" transform="rotate(31,199,627)"/><ellipse cx="480" cy="632" rx="15" ry="7" transform="rotate(-80,480,632)"/><ellipse cx="324" cy="210" rx="15" ry="7" transform="rotate(-59,324,210)"/><ellipse cx="727" cy="653" rx="15" ry="6" transform="rotate(84,727,653)"/><ellipse cx="700" cy="602" rx="11" ry="7" transform="rotate(-90,700,602)"/><ellipse cx="270" cy="566" rx="10" ry="6" transform="rotate(85,270,566)"/><ellipse cx="807" cy="380" rx="14" ry="7" transform="rotate(-17,807,380)"/><ellipse cx="805" cy="317" rx="14" ry="7" transform="rotate(-10,805,317)"/><ellipse cx="240" cy="212" rx="10" ry="8" transform="rotate(-30,240,212)"/><ellipse cx="551" cy="724" rx="14" ry="7" transform="rotate(90,551,724)"/><ellipse cx="717" cy="404" rx="11" ry="6" transform="rotate(-82,717,404)"/><ellipse cx="573" cy="648" rx="12" ry="7" transform="rotate(83,573,648)"/><ellipse cx="648" cy="403" rx="12" ry="8" transform="rotate(71,648,403)"/><ellipse cx="379" cy="760" rx="15" ry="8" transform="rotate(4,379,760)"/><ellipse cx="628" cy="169" rx="12" ry="8" transform="rotate(85,628,169)"/><ellipse cx="183" cy="668" rx="12" ry="7" transform="rotate(-75,183,668)"/><ellipse cx="818" cy="534" rx="16" ry="8" transform="rotate(20,818,534)"/><ellipse cx="475" cy="750" rx="16" ry="8" transform="rotate(65,475,750)"/><ellipse cx="404" cy="703" rx="11" ry="8" transform="rotate(-35,404,703)"/><ellipse cx="706" cy="200" rx="12" ry="6" transform="rotate(29,706,200)"/><ellipse cx="264" cy="263" rx="11" ry="7" transform="rotate(-81,264,263)"/><ellipse cx="342" cy="388" rx="15" ry="7" transform="rotate(-35,342,388)"/><ellipse cx="519" cy="727" rx="15" ry="8" transform="rotate(8,519,727)"/><ellipse cx="456" cy="444" rx="15" ry="7" transform="rotate(-89,456,444)"/><ellipse cx="409" cy="179" rx="13" ry="8" transform="rotate(70,409,179)"/><ellipse cx="628" cy="463" rx="11" ry="8" transform="rotate(70,628,463)"/><ellipse cx="321" cy="434" rx="14" ry="8" transform="rotate(-39,321,434)"/><ellipse cx="152" cy="466" rx="16" ry="6" transform="rotate(-36,152,466)"/><ellipse cx="665" cy="426" rx="11" ry="8" transform="rotate(65,665,426)"/><ellipse cx="773" cy="377" rx="14" ry="6" transform="rotate(14,773,377)"/><ellipse cx="542" cy="424" rx="13" ry="7" transform="rotate(56,542,424)"/><ellipse cx="464" cy="566" rx="12" ry="7" transform="rotate(17,464,566)"/><ellipse cx="418" cy="445" rx="14" ry="6" transform="rotate(-16,418,445)"/><ellipse cx="438" cy="756" rx="15" ry="8" transform="rotate(18,438,756)"/><ellipse cx="608" cy="706" rx="13" ry="7" transform="rotate(-62,608,706)"/><ellipse cx="164" cy="376" rx="14" ry="6" transform="rotate(68,164,376)"/><ellipse cx="674" cy="722" rx="12" ry="7" transform="rotate(28,674,722)"/><ellipse cx="189" cy="584" rx="14" ry="8" transform="rotate(17,189,584)"/><ellipse cx="578" cy="149" rx="12" ry="8" transform="rotate(-52,578,149)"/><ellipse cx="377" cy="410" rx="14" ry="7" transform="rotate(-33,377,410)"/><ellipse cx="194" cy="368" rx="14" ry="6" transform="rotate(-17,194,368)"/><ellipse cx="221" cy="282" rx="13" ry="6" transform="rotate(86,221,282)"/><ellipse cx="151" cy="242" rx="12" ry="6" transform="rotate(23,151,242)"/><ellipse cx="278" cy="138" rx="15" ry="7" transform="rotate(58,278,138)"/><ellipse cx="395" cy="733" rx="12" ry="8" transform="rotate(-41,395,733)"/><ellipse cx="509" cy="572" rx="12" ry="8" transform="rotate(43,509,572)"/><ellipse cx="419" cy="298" rx="14" ry="8" transform="rotate(30,419,298)"/><ellipse cx="476" cy="221" rx="11" ry="8" transform="rotate(28,476,221)"/><ellipse cx="310" cy="272" rx="15" ry="6" transform="rotate(73,310,272)"/><ellipse cx="455" cy="175" rx="11" ry="6" transform="rotate(40,455,175)"/><ellipse cx="216" cy="401" rx="11" ry="6" transform="rotate(26,216,401)"/><ellipse cx="701" cy="368" rx="13" ry="8" transform="rotate(-60,701,368)"/><ellipse cx="451" cy="674" rx="10" ry="7" transform="rotate(58,451,674)"/><ellipse cx="334" cy="673" rx="11" ry="6" transform="rotate(-2,334,673)"/><ellipse cx="614" cy="523" rx="16" ry="6" transform="rotate(3,614,523)"/><ellipse cx="382" cy="304" rx="15" ry="7" transform="rotate(-79,382,304)"/><ellipse cx="124" cy="603" rx="13" ry="8" transform="rotate(54,124,603)"/><ellipse cx="267" cy="164" rx="13" ry="6" transform="rotate(-36,267,164)"/><ellipse cx="287" cy="224" rx="14" ry="6" transform="rotate(-22,287,224)"/><ellipse cx="296" cy="389" rx="12" ry="6" transform="rotate(-84,296,389)"/><ellipse cx="819" cy="456" rx="12" ry="8" transform="rotate(-65,819,456)"/><ellipse cx="308" cy="311" rx="12" ry="8" transform="rotate(-1,308,311)"/><ellipse cx="139" cy="344" rx="13" ry="8" transform="rotate(2,139,344)"/><ellipse cx="521" cy="442" rx="11" ry="8" transform="rotate(-12,521,442)"/><ellipse cx="648" cy="540" rx="11" ry="6" transform="rotate(-3,648,540)"/><ellipse cx="757" cy="517" rx="11" ry="6" transform="rotate(-62,757,517)"/><ellipse cx="635" cy="657" rx="14" ry="8" transform="rotate(-25,635,657)"/><ellipse cx="177" cy="438" rx="12" ry="6" transform="rotate(-33,177,438)"/><ellipse cx="690" cy="668" rx="14" ry="7" transform="rotate(-27,690,668)"/><ellipse cx="596" cy="567" rx="10" ry="8" transform="rotate(4,596,567)"/><ellipse cx="500" cy="517" rx="12" ry="6" transform="rotate(11,500,517)"/><ellipse cx="552" cy="557" rx="14" ry="8" transform="rotate(-41,552,557)"/><ellipse cx="447" cy="43" rx="12" ry="8" transform="rotate(-3,447,43)"/><ellipse cx="637" cy="232" rx="11" ry="6" transform="rotate(-47,637,232)"/><ellipse cx="450" cy="331" rx="11" ry="7" transform="rotate(-56,450,331)"/><ellipse cx="661" cy="509" rx="13" ry="8" transform="rotate(-88,661,509)"/><ellipse cx="184" cy="233" rx="16" ry="8" transform="rotate(18,184,233)"/><ellipse cx="590" cy="261" rx="11" ry="6" transform="rotate(37,590,261)"/><ellipse cx="468" cy="393" rx="14" ry="8" transform="rotate(42,468,393)"/><ellipse cx="429" cy="130" rx="13" ry="7" transform="rotate(-68,429,130)"/><ellipse cx="758" cy="191" rx="16" ry="6" transform="rotate(-15,758,191)"/><ellipse cx="702" cy="427" rx="14" ry="6" transform="rotate(49,702,427)"/><ellipse cx="248" cy="722" rx="13" ry="8" transform="rotate(0,248,722)"/><ellipse cx="178" cy="301" rx="11" ry="6" transform="rotate(71,178,301)"/><ellipse cx="764" cy="260" rx="16" ry="6" transform="rotate(57,764,260)"/><ellipse cx="290" cy="751" rx="10" ry="6" transform="rotate(51,290,751)"/><ellipse cx="299" cy="602" rx="15" ry="7" transform="rotate(89,299,602)"/><ellipse cx="199" cy="163" rx="14" ry="7" transform="rotate(62,199,163)"/><ellipse cx="333" cy="109" rx="13" ry="8" transform="rotate(-37,333,109)"/><ellipse cx="254" cy="236" rx="11" ry="7" transform="rotate(62,254,236)"/><ellipse cx="647" cy="354" rx="11" ry="7" transform="rotate(70,647,354)"/><ellipse cx="389" cy="438" rx="14" ry="8" transform="rotate(-77,389,438)"/><ellipse cx="118" cy="251" rx="10" ry="8" transform="rotate(13,118,251)"/><ellipse cx="378" cy="379" rx="12" ry="6" transform="rotate(46,378,379)"/><ellipse cx="474" cy="483" rx="14" ry="6" transform="rotate(-68,474,483)"/><ellipse cx="369" cy="210" rx="14" ry="6" transform="rotate(-18,369,210)"/><ellipse cx="533" cy="48" rx="12" ry="7" transform="rotate(3,533,48)"/><ellipse cx="751" cy="401" rx="14" ry="8" transform="rotate(25,751,401)"/><ellipse cx="393" cy="236" rx="10" ry="8" transform="rotate(-13,393,236)"/><ellipse cx="584" cy="743" rx="16" ry="7" transform="rotate(-10,584,743)"/><ellipse cx="330" cy="360" rx="11" ry="6" transform="rotate(84,330,360)"/><ellipse cx="596" cy="191" rx="12" ry="6" transform="rotate(42,596,191)"/><ellipse cx="241" cy="618" rx="13" ry="7" transform="rotate(-1,241,618)"/><ellipse cx="242" cy="357" rx="12" ry="7" transform="rotate(58,242,357)"/><ellipse cx="183" cy="339" rx="11" ry="8" transform="rotate(66,183,339)"/><ellipse cx="787" cy="290" rx="12" ry="7" transform="rotate(-81,787,290)"/><ellipse cx="357" cy="739" rx="15" ry="8" transform="rotate(-16,357,739)"/><ellipse cx="219" cy="317" rx="12" ry="8" transform="rotate(-56,219,317)"/><ellipse cx="778" cy="235" rx="10" ry="7" transform="rotate(27,778,235)"/><ellipse cx="645" cy="723" rx="14" ry="8" transform="rotate(-52,645,723)"/><ellipse cx="538" cy="289" rx="11" ry="7" transform="rotate(51,538,289)"/><ellipse cx="96" cy="460" rx="14" ry="8" transform="rotate(-14,96,460)"/><ellipse cx="274" cy="104" rx="12" ry="7" transform="rotate(-37,274,104)"/><ellipse cx="144" cy="419" rx="15" ry="6" transform="rotate(-59,144,419)"/><ellipse cx="646" cy="684" rx="16" ry="6" transform="rotate(-35,646,684)"/><ellipse cx="693" cy="537" rx="11" ry="8" transform="rotate(85,693,537)"/><ellipse cx="819" cy="483" rx="14" ry="8" transform="rotate(-82,819,483)"/><ellipse cx="270" cy="631" rx="10" ry="8" transform="rotate(40,270,631)"/><ellipse cx="529" cy="511" rx="11" ry="8" transform="rotate(-12,529,511)"/><ellipse cx="682" cy="457" rx="11" ry="6" transform="rotate(77,682,457)"/><ellipse cx="350" cy="190" rx="14" ry="7" transform="rotate(-83,350,190)"/><ellipse cx="222" cy="136" rx="11" ry="6" transform="rotate(42,222,136)"/><ellipse cx="442" cy="81" rx="11" ry="8" transform="rotate(24,442,81)"/><ellipse cx="783" cy="335" rx="12" ry="6" transform="rotate(12,783,335)"/><ellipse cx="675" cy="209" rx="12" ry="8" transform="rotate(41,675,209)"/><ellipse cx="393" cy="483" rx="11" ry="6" transform="rotate(89,393,483)"/><ellipse cx="398" cy="541" rx="11" ry="8" transform="rotate(33,398,541)"/><ellipse cx="414" cy="373" rx="15" ry="8" transform="rotate(42,414,373)"/><ellipse cx="88" cy="510" rx="16" ry="6" transform="rotate(-28,88,510)"/><ellipse cx="447" cy="219" rx="11" ry="7" transform="rotate(-23,447,219)"/><ellipse cx="658" cy="633" rx="13" ry="7" transform="rotate(-23,658,633)"/><ellipse cx="120" cy="307" rx="13" ry="7" transform="rotate(-46,120,307)"/><ellipse cx="460" cy="282" rx="11" ry="7" transform="rotate(-77,460,282)"/><ellipse cx="742" cy="462" rx="14" ry="8" transform="rotate(20,742,462)"/><ellipse cx="347" cy="621" rx="16" ry="7" transform="rotate(-64,347,621)"/><ellipse cx="521" cy="544" rx="14" ry="8" transform="rotate(-77,521,544)"/><ellipse cx="544" cy="368" rx="14" ry="6" transform="rotate(76,544,368)"/><ellipse cx="524" cy="195" rx="12" ry="8" transform="rotate(-65,524,195)"/><ellipse cx="792" cy="597" rx="14" ry="6" transform="rotate(-5,792,597)"/><ellipse cx="244" cy="120" rx="11" ry="8" transform="rotate(-19,244,120)"/><ellipse cx="274" cy="528" rx="11" ry="8" transform="rotate(-78,274,528)"/><ellipse cx="645" cy="288" rx="11" ry="7" transform="rotate(-60,645,288)"/><ellipse cx="748" cy="290" rx="11" ry="8" transform="rotate(51,748,290)"/><ellipse cx="407" cy="591" rx="16" ry="8" transform="rotate(-8,407,591)"/><ellipse cx="509" cy="274" rx="16" ry="7" transform="rotate(-63,509,274)"/><ellipse cx="233" cy="513" rx="12" ry="6" transform="rotate(76,233,513)"/><ellipse cx="607" cy="600" rx="15" ry="6" transform="rotate(-72,607,600)"/><ellipse cx="121" cy="489" rx="15" ry="8" transform="rotate(-55,121,489)"/><ellipse cx="556" cy="258" rx="15" ry="6" transform="rotate(82,556,258)"/><ellipse cx="353" cy="284" rx="12" ry="6" transform="rotate(40,353,284)"/><ellipse cx="812" cy="423" rx="13" ry="6" transform="rotate(-15,812,423)"/><ellipse cx="726" cy="510" rx="15" ry="6" transform="rotate(12,726,510)"/><ellipse cx="337" cy="576" rx="13" ry="7" transform="rotate(-23,337,576)"/><ellipse cx="448" cy="646" rx="11" ry="6" transform="rotate(-66,448,646)"/><ellipse cx="609" cy="419" rx="15" ry="7" transform="rotate(23,609,419)"/><ellipse cx="607" cy="638" rx="13" ry="6" transform="rotate(-28,607,638)"/><ellipse cx="580" cy="604" rx="15" ry="7" transform="rotate(-32,580,604)"/><ellipse cx="752" cy="221" rx="11" ry="8" transform="rotate(-72,752,221)"/><ellipse cx="369" cy="66" rx="12" ry="8" transform="rotate(-40,369,66)"/><ellipse cx="377" cy="641" rx="15" ry="6" transform="rotate(-35,377,641)"/><ellipse cx="179" cy="499" rx="11" ry="8" transform="rotate(-56,179,499)"/><ellipse cx="512" cy="609" rx="14" ry="7" transform="rotate(-26,512,609)"/><ellipse cx="311" cy="517" rx="11" ry="7" transform="rotate(22,311,517)"/><ellipse cx="555" cy="230" rx="12" ry="8" transform="rotate(-53,555,230)"/><ellipse cx="211" cy="537" rx="12" ry="8" transform="rotate(2,211,537)"/><ellipse cx="669" cy="335" rx="11" ry="8" transform="rotate(-73,669,335)"/><ellipse cx="232" cy="560" rx="11" ry="7" transform="rotate(-2,232,560)"/><ellipse cx="239" cy="649" rx="10" ry="6" transform="rotate(-83,239,649)"/><ellipse cx="170" cy="630" rx="13" ry="7" transform="rotate(-81,170,630)"/><ellipse cx="342" cy="525" rx="11" ry="8" transform="rotate(64,342,525)"/><ellipse cx="712" cy="310" rx="15" ry="6" transform="rotate(-15,712,310)"/><ellipse cx="538" cy="634" rx="10" ry="7" transform="rotate(72,538,634)"/><ellipse cx="479" cy="604" rx="11" ry="8" transform="rotate(12,479,604)"/><ellipse cx="582" cy="679" rx="13" ry="7" transform="rotate(52,582,679)"/><ellipse cx="561" cy="523" rx="12" ry="6" transform="rotate(52,561,523)"/><ellipse cx="458" cy="246" rx="10" ry="8" transform="rotate(-34,458,246)"/><ellipse cx="657" cy="117" rx="15" ry="7" transform="rotate(-30,657,117)"/><ellipse cx="703" cy="638" rx="11" ry="6" transform="rotate(-27,703,638)"/><ellipse cx="388" cy="118" rx="14" ry="7" transform="rotate(-72,388,118)"/><ellipse cx="566" cy="201" rx="15" ry="6" transform="rotate(89,566,201)"/><ellipse cx="632" cy="104" rx="12" ry="8" transform="rotate(-5,632,104)"/><ellipse cx="198" cy="694" rx="15" ry="6" transform="rotate(66,198,694)"/><ellipse cx="680" cy="389" rx="11" ry="8" transform="rotate(58,680,389)"/><ellipse cx="437" cy="488" rx="11" ry="7" transform="rotate(-86,437,488)"/><ellipse cx="216" cy="186" rx="12" ry="7" transform="rotate(66,216,186)"/><ellipse cx="676" cy="159" rx="14" ry="6" transform="rotate(83,676,159)"/><ellipse cx="586" cy="339" rx="13" ry="8" transform="rotate(4,586,339)"/><ellipse cx="151" cy="286" rx="11" ry="6" transform="rotate(76,151,286)"/><ellipse cx="315" cy="726" rx="10" ry="6" transform="rotate(60,315,726)"/><ellipse cx="269" cy="193" rx="14" ry="8" transform="rotate(62,269,193)"/><ellipse cx="510" cy="145" rx="14" ry="6" transform="rotate(-6,510,145)"/><ellipse cx="695" cy="483" rx="14" ry="7" transform="rotate(-23,695,483)"/><ellipse cx="213" cy="672" rx="15" ry="7" transform="rotate(-8,213,672)"/><ellipse cx="263" cy="661" rx="14" ry="8" transform="rotate(-88,263,661)"/><ellipse cx="382" cy="144" rx="10" ry="6" transform="rotate(-10,382,144)"/><ellipse cx="526" cy="694" rx="14" ry="6" transform="rotate(-12,526,694)"/><ellipse cx="405" cy="786" rx="16" ry="7" transform="rotate(-62,405,786)"/><ellipse cx="791" cy="521" rx="14" ry="8" transform="rotate(-40,791,521)"/><ellipse cx="542" cy="396" rx="11" ry="7" transform="rotate(-19,542,396)"/><ellipse cx="499" cy="413" rx="12" ry="8" transform="rotate(-31,499,413)"/><ellipse cx="741" cy="374" rx="12" ry="7" transform="rotate(-14,741,374)"/><ellipse cx="639" cy="605" rx="15" ry="6" transform="rotate(30,639,605)"/><ellipse cx="518" cy="107" rx="14" ry="7" transform="rotate(56,518,107)"/><ellipse cx="340" cy="760" rx="10" ry="7" transform="rotate(74,340,760)"/><ellipse cx="591" cy="439" rx="12" ry="7" transform="rotate(57,591,439)"/><ellipse cx="409" cy="515" rx="14" ry="6" transform="rotate(56,409,515)"/><ellipse cx="478" cy="660" rx="15" ry="8" transform="rotate(46,478,660)"/><ellipse cx="465" cy="124" rx="13" ry="8" transform="rotate(78,465,124)"/><ellipse cx="190" cy="260" rx="11" ry="7" transform="rotate(13,190,260)"/><ellipse cx="306" cy="565" rx="15" ry="6" transform="rotate(-56,306,565)"/><ellipse cx="621" cy="309" rx="14" ry="8" transform="rotate(53,621,309)"/><ellipse cx="416" cy="333" rx="12" ry="8" transform="rotate(-40,416,333)"/><ellipse cx="519" cy="769" rx="15" ry="7" transform="rotate(-47,519,769)"/><ellipse cx="623" cy="208" rx="15" ry="8" transform="rotate(-59,623,208)"/><ellipse cx="581" cy="299" rx="10" ry="8" transform="rotate(-76,581,299)"/><ellipse cx="763" cy="487" rx="12" ry="6" transform="rotate(-57,763,487)"/><ellipse cx="348" cy="420" rx="13" ry="8" transform="rotate(82,348,420)"/><ellipse cx="299" cy="90" rx="11" ry="8" transform="rotate(51,299,90)"/><ellipse cx="179" cy="468" rx="15" ry="6" transform="rotate(32,179,468)"/><ellipse cx="706" cy="283" rx="11" ry="6" transform="rotate(67,706,283)"/><ellipse cx="466" cy="360" rx="15" ry="6" transform="rotate(22,466,360)"/><ellipse cx="372" cy="170" rx="11" ry="8" transform="rotate(-89,372,170)"/><ellipse cx="590" cy="233" rx="15" ry="8" transform="rotate(-68,590,233)"/><ellipse cx="721" cy="339" rx="13" ry="8" transform="rotate(58,721,339)"/><ellipse cx="280" cy="420" rx="15" ry="8" transform="rotate(-75,280,420)"/><ellipse cx="215" cy="448" rx="16" ry="7" transform="rotate(83,215,448)"/><ellipse cx="543" cy="590" rx="12" ry="7" transform="rotate(70,543,590)"/><ellipse cx="498" cy="178" rx="10" ry="8" transform="rotate(-51,498,178)"/><ellipse cx="153" cy="597" rx="16" ry="6" transform="rotate(-48,153,597)"/><ellipse cx="444" cy="717" rx="11" ry="7" transform="rotate(-45,444,717)"/><ellipse cx="596" cy="109" rx="14" ry="8" transform="rotate(-8,596,109)"/><ellipse cx="601" cy="69" rx="12" ry="8" transform="rotate(22,601,69)"/><ellipse cx="750" cy="596" rx="13" ry="6" transform="rotate(62,750,596)"/><ellipse cx="489" cy="457" rx="11" ry="6" transform="rotate(50,489,457)"/><ellipse cx="568" cy="457" rx="15" ry="7" transform="rotate(-76,568,457)"/><ellipse cx="618" cy="339" rx="16" ry="6" transform="rotate(64,618,339)"/><ellipse cx="434" cy="588" rx="15" ry="6" transform="rotate(37,434,588)"/><ellipse cx="784" cy="442" rx="15" ry="8" transform="rotate(-9,784,442)"/><ellipse cx="364" cy="672" rx="15" ry="8" transform="rotate(81,364,672)"/><ellipse cx="700" cy="134" rx="12" ry="6" transform="rotate(14,700,134)"/><ellipse cx="109" cy="279" rx="11" ry="8" transform="rotate(-80,109,279)"/><ellipse cx="242" cy="455" rx="15" ry="6" transform="rotate(28,242,455)"/><ellipse cx="279" cy="719" rx="13" ry="8" transform="rotate(-31,279,719)"/><ellipse cx="342" cy="325" rx="13" ry="8" transform="rotate(23,342,325)"/><ellipse cx="94" cy="339" rx="12" ry="6" transform="rotate(46,94,339)"/><ellipse cx="259" cy="598" rx="14" ry="8" transform="rotate(-64,259,598)"/><ellipse cx="644" cy="143" rx="14" ry="8" transform="rotate(-67,644,143)"/><ellipse cx="163" cy="559" rx="12" ry="7" transform="rotate(54,163,559)"/><ellipse cx="734" cy="431" rx="15" ry="8" transform="rotate(44,734,431)"/><ellipse cx="758" cy="546" rx="15" ry="7" transform="rotate(16,758,546)"/><ellipse cx="513" cy="668" rx="13" ry="7" transform="rotate(56,513,668)"/><ellipse cx="681" cy="304" rx="12" ry="6" transform="rotate(-58,681,304)"/><ellipse cx="124" cy="457" rx="11" ry="6" transform="rotate(-2,124,457)"/><ellipse cx="281" cy="682" rx="13" ry="8" transform="rotate(-35,281,682)"/><ellipse cx="396" cy="88" rx="14" ry="7" transform="rotate(45,396,88)"/><ellipse cx="615" cy="386" rx="16" ry="8" transform="rotate(17,615,386)"/><ellipse cx="220" cy="599" rx="16" ry="8" transform="rotate(-9,220,599)"/><ellipse cx="221" cy="242" rx="16" ry="7" transform="rotate(-77,221,242)"/><ellipse cx="433" cy="793" rx="10" ry="6" transform="rotate(-43,433,793)"/><ellipse cx="617" cy="758" rx="11" ry="6" transform="rotate(23,617,758)"/><ellipse cx="479" cy="534" rx="13" ry="8" transform="rotate(-62,479,534)"/><ellipse cx="578" cy="486" rx="14" ry="6" transform="rotate(74,578,486)"/><ellipse cx="89" cy="397" rx="15" ry="7" transform="rotate(-53,89,397)"/><ellipse cx="269" cy="385" rx="12" ry="7" transform="rotate(-23,269,385)"/><ellipse cx="546" cy="120" rx="15" ry="6" transform="rotate(-21,546,120)"/><ellipse cx="368" cy="503" rx="13" ry="8" transform="rotate(13,368,503)"/><ellipse cx="675" cy="238" rx="12" ry="6" transform="rotate(-57,675,238)"/><ellipse cx="485" cy="250" rx="15" ry="8" transform="rotate(43,485,250)"/><ellipse cx="408" cy="641" rx="16" ry="6" transform="rotate(40,408,641)"/><ellipse cx="752" cy="319" rx="12" ry="6" transform="rotate(35,752,319)"/><ellipse cx="814" cy="348" rx="14" ry="7" transform="rotate(-56,814,348)"/><ellipse cx="771" cy="577" rx="14" ry="6" transform="rotate(-79,771,577)"/><ellipse cx="342" cy="705" rx="11" ry="7" transform="rotate(-27,342,705)"/><ellipse cx="586" cy="775" rx="13" ry="6" transform="rotate(-37,586,775)"/><ellipse cx="521" cy="477" rx="14" ry="8" transform="rotate(-74,521,477)"/><ellipse cx="255" cy="691" rx="14" ry="8" transform="rotate(-42,255,691)"/><ellipse cx="710" cy="228" rx="15" ry="6" transform="rotate(-88,710,228)"/><ellipse cx="671" cy="273" rx="12" ry="8" transform="rotate(61,671,273)"/><ellipse cx="120" cy="529" rx="14" ry="6" transform="rotate(-41,120,529)"/><ellipse cx="756" cy="350" rx="12" ry="8" transform="rotate(-46,756,350)"/><ellipse cx="834" cy="394" rx="16" ry="6" transform="rotate(26,834,394)"/><ellipse cx="365" cy="239" rx="14" ry="7" transform="rotate(13,365,239)"/><ellipse cx="785" cy="471" rx="13" ry="6" transform="rotate(-70,785,471)"/><ellipse cx="253" cy="330" rx="15" ry="7" transform="rotate(20,253,330)"/><ellipse cx="783" cy="403" rx="13" ry="8" transform="rotate(76,783,403)"/><ellipse cx="413" cy="217" rx="12" ry="8" transform="rotate(-26,413,217)"/><ellipse cx="647" cy="569" rx="13" ry="6" transform="rotate(31,647,569)"/><ellipse cx="302" cy="454" rx="13" ry="7" transform="rotate(78,302,454)"/><ellipse cx="450" cy="615" rx="11" ry="7" transform="rotate(-58,450,615)"/><ellipse cx="583" cy="400" rx="12" ry="8" transform="rotate(-44,583,400)"/><ellipse cx="262" cy="746" rx="11" ry="8" transform="rotate(70,262,746)"/><ellipse cx="733" cy="618" rx="10" ry="6" transform="rotate(-64,733,618)"/><ellipse cx="339" cy="494" rx="13" ry="8" transform="rotate(41,339,494)"/><ellipse cx="361" cy="92" rx="15" ry="7" transform="rotate(-27,361,92)"/><ellipse cx="649" cy="199" rx="11" ry="7" transform="rotate(-40,649,199)"/><ellipse cx="307" cy="120" rx="12" ry="6" transform="rotate(-10,307,120)"/><ellipse cx="86" cy="426" rx="16" ry="8" transform="rotate(-33,86,426)"/><ellipse cx="606" cy="138" rx="12" ry="8" transform="rotate(-61,606,138)"/><ellipse cx="712" cy="452" rx="11" ry="8" transform="rotate(-42,712,452)"/><ellipse cx="802" cy="264" rx="12" ry="7" transform="rotate(77,802,264)"/><ellipse cx="731" cy="182" rx="12" ry="6" transform="rotate(-8,731,182)"/><ellipse cx="303" cy="699" rx="10" ry="6" transform="rotate(82,303,699)"/><ellipse cx="617" cy="282" rx="14" ry="7" transform="rotate(60,617,282)"/><ellipse cx="139" cy="629" rx="11" ry="6" transform="rotate(35,139,629)"/><ellipse cx="364" cy="581" rx="10" ry="8" transform="rotate(-36,364,581)"/><ellipse cx="394" cy="48" rx="13" ry="7" transform="rotate(27,394,48)"/><ellipse cx="530" cy="77" rx="15" ry="6" transform="rotate(-69,530,77)"/><ellipse cx="377" cy="791" rx="14" ry="7" transform="rotate(48,377,791)"/><ellipse cx="299" cy="182" rx="12" ry="6" transform="rotate(26,299,182)"/><ellipse cx="611" cy="672" rx="14" ry="6" transform="rotate(-10,611,672)"/><ellipse cx="645" cy="322" rx="15" ry="8" transform="rotate(76,645,322)"/><ellipse cx="544" cy="789" rx="15" ry="6" transform="rotate(83,544,789)"/><ellipse cx="634" cy="501" rx="14" ry="7" transform="rotate(37,634,501)"/><ellipse cx="563" cy="64" rx="12" ry="6" transform="rotate(-11,563,64)"/><ellipse cx="509" cy="304" rx="14" ry="7" transform="rotate(48,509,304)"/><ellipse cx="443" cy="382" rx="13" ry="8" transform="rotate(80,443,382)"/><ellipse cx="171" cy="174" rx="13" ry="7" transform="rotate(-23,171,174)"/><ellipse cx="285" cy="477" rx="16" ry="6" transform="rotate(76,285,477)"/><ellipse cx="320" cy="407" rx="12" ry="7" transform="rotate(0,320,407)"/><ellipse cx="178" cy="534" rx="13" ry="8" transform="rotate(36,178,534)"/><ellipse cx="374" cy="265" rx="12" ry="6" transform="rotate(35,374,265)"/><ellipse cx="724" cy="682" rx="14" ry="6" transform="rotate(3,724,682)"/><ellipse cx="547" cy="491" rx="13" ry="8" transform="rotate(81,547,491)"/><ellipse cx="133" cy="221" rx="10" ry="7" transform="rotate(30,133,221)"/><ellipse cx="669" cy="607" rx="15" ry="6" transform="rotate(90,669,607)"/><ellipse cx="586" cy="532" rx="14" ry="7" transform="rotate(82,586,532)"/><ellipse cx="315" cy="625" rx="14" ry="7" transform="rotate(56,315,625)"/><ellipse cx="271" cy="447" rx="15" ry="8" transform="rotate(17,271,447)"/><ellipse cx="719" cy="546" rx="13" ry="6" transform="rotate(-86,719,546)"/><ellipse cx="422" cy="100" rx="12" ry="7" transform="rotate(14,422,100)"/><ellipse cx="308" cy="339" rx="12" ry="6" transform="rotate(-48,308,339)"/><ellipse cx="493" cy="121" rx="13" ry="7" transform="rotate(37,493,121)"/><ellipse cx="547" cy="664" rx="14" ry="6" transform="rotate(65,547,664)"/><ellipse cx="427" cy="158" rx="16" ry="6" transform="rotate(42,427,158)"/><ellipse cx="203" cy="511" rx="16" ry="6" transform="rotate(36,203,511)"/><ellipse cx="503" cy="792" rx="10" ry="8" transform="rotate(36,503,792)"/><ellipse cx="220" cy="716" rx="15" ry="6" transform="rotate(86,220,716)"/><ellipse cx="510" cy="639" rx="14" ry="6" transform="rotate(3,510,639)"/><ellipse cx="421" cy="61" rx="10" ry="7" transform="rotate(30,421,61)"/><ellipse cx="434" cy="193" rx="12" ry="7" transform="rotate(-81,434,193)"/><ellipse cx="495" cy="362" rx="12" ry="6" transform="rotate(1,495,362)"/><ellipse cx="316" cy="772" rx="11" ry="6" transform="rotate(-0,316,772)"/><ellipse cx="424" cy="673" rx="13" ry="7" transform="rotate(-11,424,673)"/><ellipse cx="554" cy="695" rx="11" ry="6" transform="rotate(-34,554,695)"/><ellipse cx="634" cy="431" rx="12" ry="8" transform="rotate(16,634,431)"/><ellipse cx="285" cy="281" rx="10" ry="8" transform="rotate(89,285,281)"/></g></svg><svg x="625" y="1910" width="160" height="160" viewBox="0 0 927 927"><path d="M452,165 L335,370 L570,370 Z M298,405 L180,610 L415,610 Z M605,405 L488,610 L722,610 Z" fill="#fff"/></svg><text transform="translate(196,1013) rotate(90)" font-size="30" fill="#fff" font-family="Liberation Sans">PP</text><text x="191.5" y="1073" font-size="27" fill="#fff" font-family="Liberation Sans">棉</text><text x="287" y="1040" font-size="28" fill="#fff" font-family="Liberation Sans">炭</text><text x="287" y="1070" font-size="28" fill="#fff" font-family="Liberation Sans">棒</text><text transform="translate(460,1013) rotate(90)" font-size="29" fill="#fff" font-family="Liberation Sans">RO</text><text x="456" y="1079.5" font-size="28" fill="#fff" font-family="Liberation Sans">膜</text><text transform="translate(461,1282) rotate(90)" font-size="29" fill="#fff" font-family="Liberation Sans">RO</text><text x="457" y="1349" font-size="28" fill="#fff" font-family="Liberation Sans">膜</text>
</svg>
<div class="t" style="left:133px;top:44px;font-size:57px;line-height:57px;color:#1a1a1a;letter-spacing:0px;transform:scaleX(1.07);transform-origin:0 0;-webkit-text-stroke:1.1px #1a1a1a;">双</div><div class="t" style="left:190.2px;top:38.5px;font-size:66px;line-height:66px;color:#1a1a1a;letter-spacing:2.3px;-webkit-text-stroke:0.8px #1a1a1a;">RO</div><div class="t" style="left:292px;top:44px;font-size:57px;line-height:57px;color:#1a1a1a;letter-spacing:0.8px;transform:scaleX(1.07);transform-origin:0 0;-webkit-text-stroke:1.1px #1a1a1a;">膜设计<span style="position:relative;left:-17px;font-weight:bold">，</span>高效制水</div><div class="t g" style="left:220px;top:117px;font-size:21px;line-height:21px;color:#8a8a8a;letter-spacing:0.75px;transform:scaleX(1.08);transform-origin:0 0;">选用<span style="font-size:24px;letter-spacing:0px;margin-left:1px;margin-right:0px">100GPD</span>超低压双<span style="font-size:24px;letter-spacing:0px">RO</span>膜，亲水性更好，</div><div class="t g" style="left:324px;top:144px;font-size:21px;line-height:21px;color:#8a8a8a;letter-spacing:1.4px;transform:scaleX(1.05);transform-origin:0 0;">高效过滤<span style="position:relative;left:-6px">，</span><span style="margin-left:10px"></span>制水更静音<span style="position:relative;left:2px">。</span></div><div class="t" style="left:180px;top:694px;font-size:57px;line-height:57px;color:#1a1a1a;letter-spacing:0.8px;transform:scaleX(1.07);transform-origin:0 0;-webkit-text-stroke:1.1px #1a1a1a;">至纯净水<span style="position:relative;left:-17px;font-weight:bold">，</span>精细过滤</div><div class="t g" style="left:216.2px;top:766px;font-size:21px;line-height:21px;color:#8a8a8a;letter-spacing:-0.4px;transform:scaleX(1.1);transform-origin:0 0;">自来水</div><div class="t g" style="left:311.3px;top:764px;font-size:24px;line-height:24px;color:#8a8a8a;letter-spacing:-1.4px;transform:scaleX(1.3);transform-origin:0 0;">PP</div><div class="t g" style="left:350px;top:766px;font-size:21px;line-height:21px;color:#8a8a8a;letter-spacing:0px;transform:scaleX(1.1);transform-origin:0 0;">棉</div><div class="t g" style="left:396.9px;top:766px;font-size:21px;line-height:21px;color:#8a8a8a;letter-spacing:-1.3px;transform:scaleX(1.1);transform-origin:0 0;">炭棒</div><div class="t g" style="left:466px;top:764px;font-size:25.5px;line-height:25.5px;color:#8a8a8a;letter-spacing:0px;transform:scaleX(1.08);transform-origin:0 0;">RO</div><div class="t g" style="left:505.6px;top:766px;font-size:21px;line-height:21px;color:#8a8a8a;letter-spacing:0px;transform:scaleX(1.1);transform-origin:0 0;">膜</div><div class="t g" style="left:554.3px;top:766px;font-size:21px;line-height:21px;color:#8a8a8a;letter-spacing:0.6px;transform:scaleX(1.1);transform-origin:0 0;">后置复合滤芯</div><div class="t" style="left:95px;top:891px;font-size:13px;line-height:13px;color:#3f9a4e;letter-spacing:2.5px;font-weight:bold;">自来水</div><div class="t" style="left:791px;top:934px;font-size:13px;line-height:13px;color:#4d8cc4;letter-spacing:2.5px;font-weight:bold;">纯净水</div><div class="t" style="left:632px;top:964px;font-size:21px;line-height:21px;color:#3b8fd2;letter-spacing:0.2px;-webkit-text-stroke:0.4px #3b8fd2;">后置复合滤芯</div><div class="t" style="left:641px;top:1299px;font-size:20.5px;line-height:20.5px;color:#3b8fd2;letter-spacing:0.3px;-webkit-text-stroke:0.4px #3b8fd2;">压力桶</div><div class="num" style="left:189px;top:847px">1</div><div class="num" style="left:284px;top:847px">2</div><div class="num" style="left:455px;top:847px">3</div><div class="num" style="left:674px;top:847px">4</div><div class="t" style="left:318px;top:1576px;font-size:29px;line-height:29px;color:#ffffff;letter-spacing:2.2px;-webkit-text-stroke:0.3px #fff;">四级过滤<span style="position:relative;left:-9px">，</span>有效过滤</div><div class="lab" style="left:126.5px;top:1834px">水垢</div><div class="lab" style="left:285.5px;top:1834px">铁锈</div><div class="lab" style="left:444px;top:1834px">胶体</div><div class="lab" style="left:603px;top:1834px">余氯</div><div class="lab" style="left:126px;top:2072px">悬浮物</div><div class="lab" style="left:285px;top:2072px">颗粒物</div><div class="lab" style="left:444px;top:2072px">细菌</div><div class="lab" style="left:604px;top:2072px">铝、镉、砷</div>
</body></html>
